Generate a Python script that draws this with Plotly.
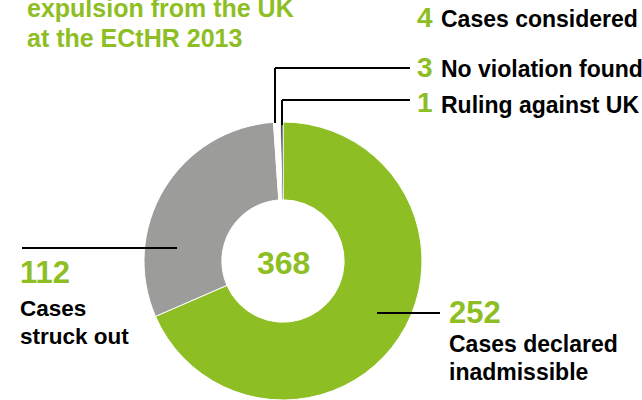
import plotly.graph_objects as go

# ---- data ----
categories = ["Cases declared inadmissible", "Cases struck out", "No violation found", "Ruling against UK"]
values = [252, 112, 3, 1]
title_lines = ["expulsion from the UK", "at the ECtHR 2013"]

GREEN = "#8DBE23"
GRAY = "#9C9C9B"
BLACK = "#111111"
slice_colors = [GREEN, GRAY, "#FFFFFF", BLACK]

W, H = 642, 400
FONT = "Liberation Sans, Arial, Helvetica, sans-serif"


def px(x):
    return x / W


def py(y):
    return 1 - y / H


total = sum(values)
considered = values[2] + values[3]

# donut geometry (pixels)
cx, cy, r = 283, 261, 139

fig = go.Figure(
    go.Pie(
        labels=categories,
        values=values,
        sort=False,
        direction="clockwise",
        rotation=0,
        hole=0.44,
        marker=dict(colors=slice_colors, line=dict(color="white", width=1)),
        textinfo="none",
        hoverinfo="skip",
        showlegend=False,
        domain=dict(x=[px(cx - r), px(cx + r)], y=[py(cy + r), py(cy - r)]),
    )
)

ann = []


def add_text(text, x, y, size, color, anchor="left"):
    ann.append(
        dict(
            text=text,
            x=px(x),
            y=py(y),
            xref="paper",
            yref="paper",
            xanchor=anchor,
            yanchor="middle",
            showarrow=False,
            font=dict(family=FONT, size=size, color=color, weight="bold"),
        )
    )


# title
add_text("<b>%s</b>" % title_lines[0], 25, 8.5, 25, GREEN)
add_text("<b>%s</b>" % title_lines[1], 25, 37.5, 25, GREEN)

# right side labels
add_text("<b>%d</b>" % considered, 435, 17.5, 28, GREEN, "right")
add_text("<b>Cases considered</b>", 439, 19.5, 23, "black")
add_text("<b>%d</b>" % values[2], 435, 67, 28, GREEN, "right")
add_text("<b>%s</b>" % categories[2], 439, 69.5, 23, "black")
add_text("<b>%d</b>" % values[3], 435, 102, 28, GREEN, "right")
add_text("<b>%s</b>" % categories[3], 439, 105, 23, "black")

# left label (struck out)
add_text("<b>%d</b>" % values[1], 18, 272.5, 31, GREEN)
add_text("<b>Cases</b>", 18, 308, 22.5, "black")
add_text("<b>struck out</b>", 18, 336, 22.5, "black")

# right label (inadmissible)
add_text("<b>%d</b>" % values[0], 447, 312, 31, GREEN)
add_text("<b>Cases declared</b>", 447, 344, 23, "black")
add_text("<b>inadmissible</b>", 447, 372, 23, "black")

# centre total
ann.append(
    dict(
        text="<b>%d</b>" % total,
        x=px(cx),
        y=py(263),
        xref="paper",
        yref="paper",
        xanchor="center",
        yanchor="middle",
        showarrow=False,
        font=dict(family=FONT, size=32, color=GREEN),
    )
)

# leader lines
line_style = dict(color="black", width=2)
segments = [
    (275, 68, 410, 68),
    (275, 68, 275, 123),
    (282, 100, 410, 100),
    (282, 100, 282, 125),
    (22, 248, 177, 248),
    (377, 313, 440, 313),
]
shapes = [
    dict(type="line", xref="paper", yref="paper", x0=px(a), y0=py(b), x1=px(c), y1=py(d), line=line_style)
    for a, b, c, d in segments
]

fig.update_layout(
    width=W,
    height=H,
    margin=dict(l=0, r=0, t=0, b=0),
    paper_bgcolor="white",
    plot_bgcolor="white",
    annotations=ann,
    shapes=shapes,
)

fig.write_html("out.html")
